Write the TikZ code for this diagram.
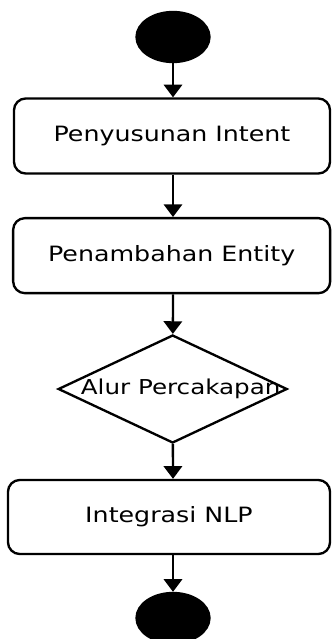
\documentclass[tikz,border=0pt]{standalone}
\usepackage{fontspec}
\setmainfont{DejaVu Sans}[FakeStretch=1.2]
\usetikzlibrary{arrows.meta,shapes.geometric}

\begin{document}
\begin{tikzpicture}[line width=2pt,-{Triangle[width=0.55cm,length=0.38cm]}]
    \tikzstyle{state}=[draw,fill=black,shape=ellipse,minimum width=2.19cm,minimum height=1.5cm]
    \tikzstyle{activity}=[draw,rounded corners=0.35cm,minimum height=2.25cm,font=\fontsize{18}{21}\selectfont]
    \tikzstyle{decision}=[draw,shape=diamond,aspect=2.1,inner sep=0pt,minimum width=6.87cm,minimum height=3.24cm]

    \useasboundingbox (0,0) rectangle (9.96,-19.17);

    \node[state](start) at (5.19,-1.11){};
    \node[activity,minimum width=9.48cm](intent) at (5.16,-4.08){Penyusunan Intent};
    \node[activity,minimum width=9.51cm](entity) at (5.15,-7.67){Penambahan Entity};
    \node[decision](alur) at (5.18,-11.67){};
    \node[font=\fontsize{17.5}{21}\selectfont](alurtext) at (5.42,-11.67){Alur Percakapan};
    \node[activity,minimum width=9.66cm,minimum height=2.22cm](nlp) at (5.07,-15.51){Integrasi NLP};
    \node[state](end) at (5.19,-18.54){};

    \draw (start) -- (start |- intent.north);
    \draw (intent.south -| start) -- (start |- entity.north);
    \draw (entity.south -| start) -- (alur);
    \draw (alur) -- (start |- nlp.north);
    \draw (nlp.south -| start) -- (end);
\end{tikzpicture}
\end{document}
